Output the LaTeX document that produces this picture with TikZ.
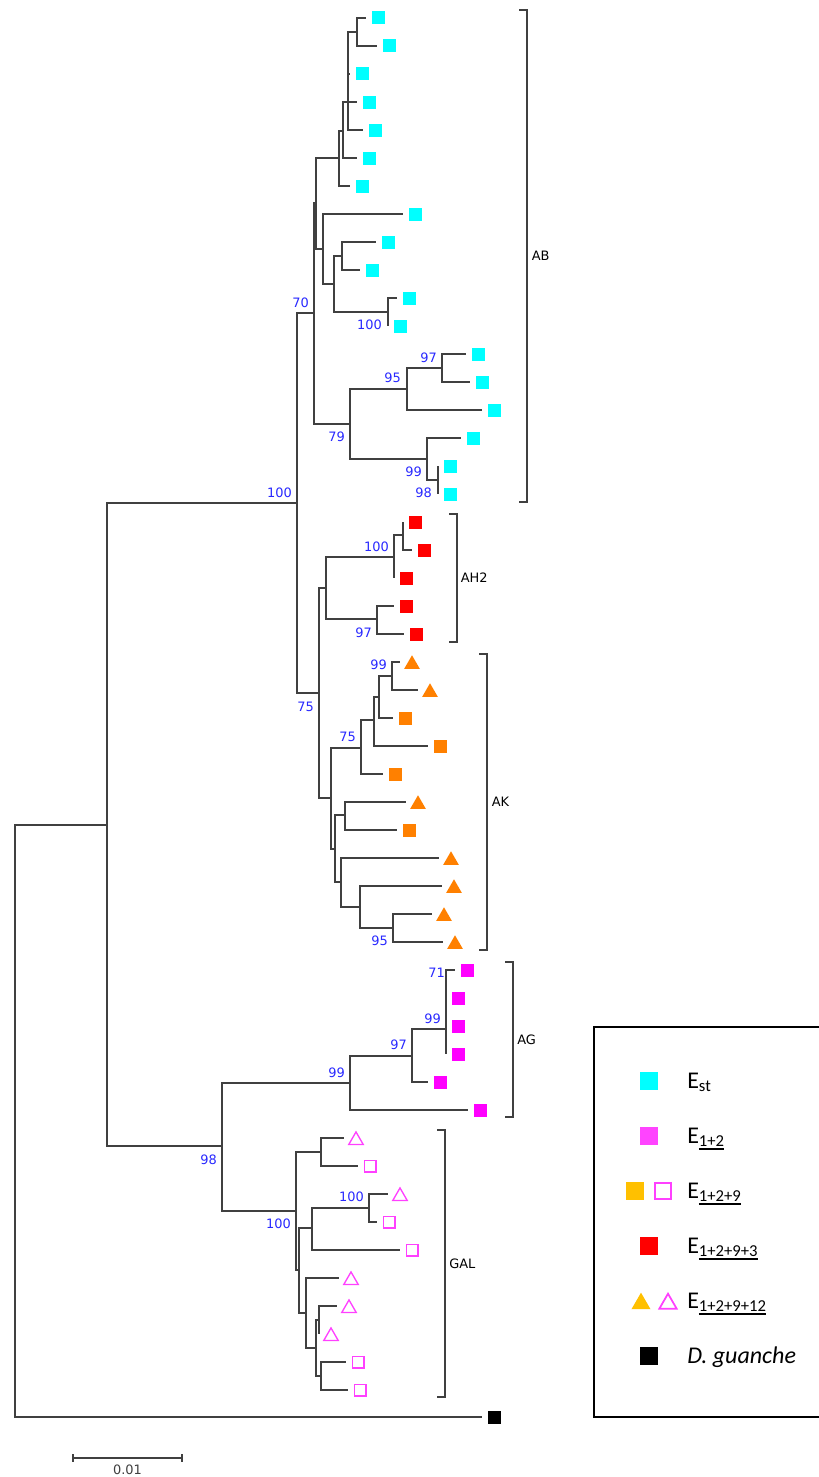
\documentclass[tikz,border=0pt]{standalone}
\usepackage{fontspec}
\setmainfont{DejaVu Sans}
\newfontfamily\legfont{Carlito}
\usetikzlibrary{shapes.geometric}
\definecolor{edgec}{HTML}{404040}
\definecolor{cyanc}{HTML}{00FFFF}
\definecolor{redc}{HTML}{FF0000}
\definecolor{orangec}{HTML}{FF8000}
\definecolor{magc}{HTML}{FF00FF}
\definecolor{pinkc}{HTML}{FF40FF}
\definecolor{goldc}{HTML}{FFC000}
\definecolor{legmag}{HTML}{FF44FF}
\definecolor{bootc}{HTML}{2828FF}
\newcommand\myul[1]{\setbox0\hbox{#1}\rlap{\rule[-2.6pt]{\wd0}{1.2pt}}\box0}
\newcommand\lsub[1]{\raisebox{-2.5pt}{\fontsize{12.5}{12.5}\selectfont #1}}
\newcommand\leaf[4]{\coordinate (#1) at (#2,#3); \node[#4] (m#1) at ([xshift=9pt]#1) {};}
\newcommand\kids[2]{\foreach \c in {#2}{\draw[tline] (#1) |- (\c);}}
\tikzset{
  tline/.style={draw=edgec, line width=1pt},
  brk/.style={draw=edgec, line width=1pt},
  sqm/.style={rectangle, minimum size=9.75pt, inner sep=0pt, draw=none},
  csq/.style={sqm, fill=cyanc},
  rsq/.style={sqm, fill=redc},
  osq/.style={sqm, fill=orangec},
  msq/.style={sqm, fill=magc},
  bsq/.style={sqm, fill=black},
  esq/.style={rectangle, minimum size=8.75pt, inner sep=0pt, draw=pinkc, line width=1pt, fill=white},
  trim/.style={regular polygon, regular polygon sides=3, inner sep=0pt, minimum size=13.5pt, yshift=-1.7pt},
  otri/.style={trim, draw=none, fill=orangec},
  etri/.style={trim, minimum size=12.5pt, draw=pinkc, line width=1pt, fill=white},
  boot/.style={font=\fontsize{9.7}{10}\selectfont, text=bootc, inner sep=0pt, anchor=east},
  clab/.style={font=\fontsize{9.7}{10}\selectfont, text=black, inner sep=0pt, anchor=west},
  lsq/.style={rectangle, minimum size=13.5pt, inner sep=0pt, draw=none},
  ltri/.style={regular polygon, regular polygon sides=3, inner sep=0pt, minimum size=16.5pt, yshift=-2pt},
  ltxt/.style={font=\legfont\fontsize{18}{21}\selectfont, inner sep=0pt, anchor=base west}
}
\begin{document}
\begin{tikzpicture}[x=0.75pt, y=-0.75pt]
\useasboundingbox (0,0) rectangle (818,1477);
% internal nodes
\coordinate (r) at (15,1121);
\coordinate (nA) at (107,825);
\coordinate (n100) at (297,503);
\coordinate (n70) at (314,313);
\coordinate (nTop) at (316,203);
\coordinate (n7) at (339,158);
\coordinate (n6) at (343,131);
\coordinate (nB) at (348,102);
\coordinate (nC) at (348,53);
\coordinate (nA1) at (357,32);
\coordinate (n323) at (323,249);
\coordinate (n334) at (334,284);
\coordinate (n342) at (342,256);
\coordinate (n388) at (388,312);
\coordinate (n79) at (350,424);
\coordinate (n95) at (407,389);
\coordinate (n97) at (442,368);
\coordinate (n99) at (427,459);
\coordinate (n98b) at (438,480);
\coordinate (n75) at (319,693);
\coordinate (nAH2) at (326,588);
\coordinate (n100b) at (394,557);
\coordinate (n403) at (403,535);
\coordinate (n97b) at (377,619);
\coordinate (nAK) at (331,798);
\coordinate (n75b) at (361,748);
\coordinate (n374) at (374,720);
\coordinate (n379) at (379,697);
\coordinate (n99c) at (392,676);
\coordinate (n336) at (335,849);
\coordinate (n345) at (345,815);
\coordinate (n341) at (341,882);
\coordinate (n360) at (360,907);
\coordinate (n95c) at (393,928);
\coordinate (n98) at (222,1146);
\coordinate (n99d) at (350,1083);
\coordinate (n97d) at (412,1056);
\coordinate (n99e) at (446,1029);
\coordinate (nGAL) at (296,1211);
\coordinate (n321) at (321,1152);
\coordinate (n299) at (299,1270);
\coordinate (n312) at (312,1228);
\coordinate (n369) at (369,1208);
\coordinate (n306) at (306,1313);
\coordinate (n316) at (316,1348);
\coordinate (n319) at (319,1320);
\coordinate (n321b) at (321,1376);
% leaves
\leaf{L1}{366}{18}{csq}
\leaf{L2}{377}{46}{csq}
\leaf{L3}{350}{74}{csq}
\leaf{L4}{357}{102}{csq}
\leaf{L5}{363}{130}{csq}
\leaf{L6}{357}{158}{csq}
\leaf{L7}{350}{186}{csq}
\leaf{L8}{403}{214}{csq}
\leaf{L9}{376}{242}{csq}
\leaf{L10}{360}{270}{csq}
\leaf{L11}{397}{298}{csq}
\leaf{L12}{388}{326}{csq}
\leaf{L13}{466}{354}{csq}
\leaf{L14}{470}{382}{csq}
\leaf{L15}{482}{410}{csq}
\leaf{L16}{461}{438}{csq}
\leaf{L17}{438}{466}{csq}
\leaf{L18}{438}{494}{csq}
\leaf{L19}{403}{522}{rsq}
\leaf{L20}{412}{550}{rsq}
\leaf{L21}{394}{578}{rsq}
\leaf{L22}{394}{606}{rsq}
\leaf{L23}{404}{634}{rsq}
\leaf{L24}{400}{662}{otri}
\leaf{L25}{418}{690}{otri}
\leaf{L26}{393}{718}{osq}
\leaf{L27}{428}{746}{osq}
\leaf{L28}{383}{774}{osq}
\leaf{L29}{406}{802}{otri}
\leaf{L30}{397}{830}{osq}
\leaf{L31}{439}{858}{otri}
\leaf{L32}{442}{886}{otri}
\leaf{L33}{432}{914}{otri}
\leaf{L34}{443}{942}{otri}
\leaf{L35}{455}{970}{msq}
\leaf{L36}{446}{998}{msq}
\leaf{L37}{446}{1026}{msq}
\leaf{L38}{446}{1054}{msq}
\leaf{L39}{428}{1082}{msq}
\leaf{L40}{468}{1110}{msq}
\leaf{L41}{344}{1138}{etri}
\leaf{L42}{358}{1166}{esq}
\leaf{L43}{388}{1194}{etri}
\leaf{L44}{377}{1222}{esq}
\leaf{L45}{400}{1250}{esq}
\leaf{L46}{339}{1278}{etri}
\leaf{L47}{337}{1306}{etri}
\leaf{L48}{319}{1334}{etri}
\leaf{L49}{346}{1362}{esq}
\leaf{L50}{348}{1390}{esq}
\leaf{OG}{482}{1417}{bsq}
% branches
\kids{r}{nA,OG}
\kids{nA}{n100,n98}
\kids{n100}{n70,n75}
\kids{n70}{nTop,n79}
\kids{nTop}{n7,n323}
\kids{n7}{n6,L7}
\kids{n6}{nB,L6}
\kids{nB}{nC,L4,L5}
\kids{nC}{nA1,L3}
\kids{nA1}{L1,L2}
\kids{n323}{L8,n334}
\kids{n334}{n342,n388}
\kids{n342}{L9,L10}
\kids{n388}{L11,L12}
\kids{n79}{n95,n99}
\kids{n95}{n97,L15}
\kids{n97}{L13,L14}
\kids{n99}{L16,n98b}
\kids{n98b}{L17,L18}
\kids{n75}{nAH2,nAK}
\kids{nAH2}{n100b,n97b}
\kids{n100b}{n403,L21}
\kids{n403}{L19,L20}
\kids{n97b}{L22,L23}
\kids{nAK}{n75b,n336}
\kids{n75b}{n374,L28}
\kids{n374}{n379,L27}
\kids{n379}{n99c,L26}
\kids{n99c}{L24,L25}
\kids{n336}{n345,n341}
\kids{n345}{L29,L30}
\kids{n341}{L31,n360}
\kids{n360}{L32,n95c}
\kids{n95c}{L33,L34}
\kids{n98}{n99d,nGAL}
\kids{n99d}{n97d,L40}
\kids{n97d}{n99e,L39}
\kids{n99e}{L35,L36,L37,L38}
\kids{nGAL}{n321,n299}
\kids{n321}{L41,L42}
\kids{n299}{n312,n306}
\kids{n312}{n369,L45}
\kids{n369}{L43,L44}
\kids{n306}{L46,n316}
\kids{n316}{n319,n321b}
\kids{n319}{L47,L48}
\kids{n321b}{L49,L50}
% bootstrap values
\node[boot] (b1) at (309,303) {70};
\node[boot] (b2) at (382,325) {100};
\node[boot] (b3) at (437,358) {97};
\node[boot] (b4) at (401,378) {95};
\node[boot] (b5) at (345,437) {79};
\node[boot] (b6) at (422,472) {99};
\node[boot] (b7) at (432,493) {98};
\node[boot] (b8) at (292,493) {100};
\node[boot] (b9) at (389,547) {100};
\node[boot] (b10) at (372,633) {97};
\node[boot] (b11) at (387,665) {99};
\node[boot] (b12) at (314,707) {75};
\node[boot] (b13) at (356,737) {75};
\node[boot] (b14) at (388,941) {95};
\node[boot] (b15) at (445,973) {71};
\node[boot] (b16) at (441,1019) {99};
\node[boot] (b17) at (407,1045) {97};
\node[boot] (b18) at (345,1073) {99};
\node[boot] (b19) at (217,1160) {98};
\node[boot] (b20) at (364,1197) {100};
\node[boot] (b21) at (291,1224) {100};
% clade brackets
\coordinate (ABt) at (527,10); \coordinate (ABb) at (527,502);
\draw[brk] ([xshift=-6pt]ABt) -- (ABt) -- (ABb) -- ([xshift=-6pt]ABb);
\node[clab] (cAB) at (531.5,256) {AB};
\coordinate (AHt) at (457,514); \coordinate (AHb) at (457,642);
\draw[brk] ([xshift=-6pt]AHt) -- (AHt) -- (AHb) -- ([xshift=-6pt]AHb);
\node[clab] (cAH) at (460.5,578) {AH2};
\coordinate (AKt) at (487,654); \coordinate (AKb) at (487,950);
\draw[brk] ([xshift=-6pt]AKt) -- (AKt) -- (AKb) -- ([xshift=-6pt]AKb);
\node[clab] (cAK) at (491.5,802) {AK};
\coordinate (AGt) at (513,962); \coordinate (AGb) at (513,1117);
\draw[brk] ([xshift=-6pt]AGt) -- (AGt) -- (AGb) -- ([xshift=-6pt]AGb);
\node[clab] (cAG) at (517,1039.5) {AG};
\coordinate (GAt) at (445,1130); \coordinate (GAb) at (445,1397);
\draw[brk] ([xshift=-6pt]GAt) -- (GAt) -- (GAb) -- ([xshift=-6pt]GAb);
\node[clab] (cGA) at (449,1263.5) {GAL};
% scale bar
\coordinate (s1) at (73,1458); \coordinate (s2) at (182,1458);
\draw[brk] (s1) -- (s2);
\draw[brk] ([yshift=3pt]s1) -- ([yshift=-3pt]s1);
\draw[brk] ([yshift=3pt]s2) -- ([yshift=-3pt]s2);
\node[font=\fontsize{9.7}{10}\selectfont, text=edgec, inner sep=0pt] (sl) at (127.5,1470) {0.01};
% legend
\draw[line width=1.3pt] (820,1027) -- (594,1027) -- (594,1417) -- (820,1417);
\node[lsq, fill=cyanc] (k1) at (649,1081) {};
\node[ltxt] (t1) at (687,1088) {E\lsub{st}};
\node[lsq, fill=legmag] (k2) at (649,1136) {};
\node[ltxt] (t2) at (687,1143) {E\lsub{\myul{1+2}}};
\node[lsq, fill=goldc] (k3a) at (635,1191) {};
\node[lsq, minimum size=12.2pt, draw=pinkc, line width=1.3pt, fill=white] (k3b) at (663,1191) {};
\node[ltxt] (t3) at (687,1198) {E\lsub{\myul{1+2+9}}};
\node[lsq, fill=redc] (k4) at (649,1246) {};
\node[ltxt] (t4) at (687,1253) {E\lsub{\myul{1+2+9+3}}};
\node[ltri, fill=goldc] (k5a) at (641,1301) {};
\node[ltri, minimum size=15pt, draw=pinkc, line width=1.3pt, fill=white] (k5b) at (668,1301) {};
\node[ltxt] (t5) at (687,1308) {E\lsub{\myul{1+2+9+12}}};
\node[lsq, fill=black] (k6) at (649,1356) {};
\node[ltxt] (t6) at (687,1363) {\itshape D. guanche};
\end{tikzpicture}
\end{document}
